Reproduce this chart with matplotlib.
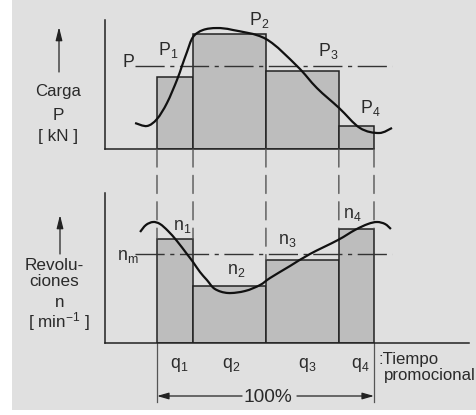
import matplotlib
matplotlib.use("Agg")
import matplotlib.pyplot as plt
import numpy as np
from matplotlib.path import Path
from matplotlib.patches import PathPatch, Rectangle, ConnectionPatch, FancyArrowPatch

plt.rcParams['font.family'] = ['Liberation Sans', 'DejaVu Sans']
plt.rcParams['mathtext.fontset'] = 'custom'
plt.rcParams['mathtext.rm'] = 'Liberation Sans'
plt.rcParams['mathtext.it'] = 'Liberation Sans'

# ---------------- data ----------------
q_share = [16.6, 33.6, 33.6, 16.2]          # time shares q1..q4 in %
load_P = [6.26, 10.0, 6.78, 2.0]             # load per period (arbitrary kN units)
load_mean = 7.22                             # equivalent load P
speed_n = [1040, 570, 830, 1140]             # speed per period (min^-1)
speed_mean = 890                             # mean speed n_m

load_curve_t = [-10.1, -4.6, 0.0, 4.6, 9.2, 11.5, 13.8, 16.6, 21.2, 27.6, 35.0,
                50.2, 64.5, 73.7, 83.9, 93.5, 102.3, 108.3]
load_curve_P = [2.26, 2.0, 2.61, 4.0, 6.0, 7.22, 8.43, 9.74, 10.35, 10.52, 10.35,
                9.57, 7.22, 5.30, 3.57, 1.83, 1.39, 1.83]

speed_curve_t = [-7.8, -5.1, -1.8, 1.4, 5.1, 9.2, 13.8, 16.6, 19.8, 23.0, 26.7,
                 32.7, 40.6, 47.5, 52.1, 61.3, 70.5, 83.4, 91.2, 97.2, 101.4, 105.1, 107.8]
speed_curve_n = [1110, 1180, 1210, 1190, 1120, 1020, 890, 810, 710, 630, 540,
                 500, 520, 580, 650, 770, 890, 1030, 1130, 1190, 1210, 1190, 1140]

load_labels = ['P_1', 'P_2', 'P_3', 'P_4']
speed_labels = ['n_1', 'n_2', 'n_3', 'n_4']
q_labels = ['q_1', 'q_2', 'q_3', 'q_4']

# ---------------- layout ----------------
W, H = 477, 415
fig = plt.figure(figsize=(W / 100, H / 100), dpi=100)
fig.patch.set_facecolor('white')
fig.patches.append(Rectangle((12 / W, 1 - 410 / H), (W - 12) / W, 410 / H,
                             transform=fig.transFigure, facecolor='#e0e0e0',
                             edgecolor='none', zorder=-10))

BAR = '#bdbdbd'
DARK = '#222222'
GREY = '#555555'
TXT = '#2a2a2a'

def px_axes(x0, y0, x1, y1):
    return fig.add_axes([x0 / W, 1 - y1 / H, (x1 - x0) / W, (y1 - y0) / H])

XL = (-23.96, 143.78)
ax1 = px_axes(105, 20, 469, 149)
ax2 = px_axes(105, 193, 469, 343)
for ax in (ax1, ax2):
    ax.set_facecolor('none')
    ax.set_xlim(*XL)
    ax.set_xticks([]); ax.set_yticks([])
    for s in ('top', 'right'):
        ax.spines[s].set_visible(False)
    for s in ('left', 'bottom'):
        ax.spines[s].set_linewidth(1.1)
        ax.spines[s].set_color(DARK)
ax1.set_ylim(0, 11.22)
ax2.set_ylim(0, 1500)
ax1.spines['bottom'].set_bounds(XL[0], sum(q_share))

edges = np.concatenate([[0], np.cumsum(q_share)])
lefts = edges[:-1]

ax1.bar(lefts, load_P, width=q_share, align='edge', color=BAR,
        edgecolor=DARK, linewidth=1.1, zorder=2)
ax2.bar(lefts, speed_n, width=q_share, align='edge', color=BAR,
        edgecolor=DARK, linewidth=1.1, zorder=2)

dashdot = (0, (21, 4, 3, 4))
ax1.plot([-10.1, 108.3], [load_mean, load_mean], color='#333333', lw=1.0,
         linestyle=dashdot, zorder=3)
ax2.plot([-10.1, 108.3], [speed_mean, speed_mean], color='#333333', lw=1.0,
         linestyle=dashdot, zorder=3)

def smooth(ax, xs, ys, **kw):
    pts = ax.transData.transform(np.column_stack([xs, ys]))
    verts = [pts[0]]
    codes = [Path.MOVETO]
    n = len(pts)
    for i in range(n - 1):
        p0 = pts[i - 1] if i > 0 else pts[i]
        p1 = pts[i]
        p2 = pts[i + 1]
        p3 = pts[i + 2] if i + 2 < n else pts[i + 1]
        c1 = p1 + (p2 - p0) / 6.0
        c2 = p2 - (p3 - p1) / 6.0
        verts += [c1, c2, p2]
        codes += [Path.CURVE4] * 3
    inv = ax.transData.inverted()
    verts = inv.transform(np.array(verts))
    patch = PathPatch(Path(verts, codes), facecolor='none', **kw)
    patch.set_clip_on(False)
    ax.add_patch(patch)

smooth(ax1, load_curve_t, load_curve_P, edgecolor='#111111', lw=1.6, zorder=4)
smooth(ax2, speed_curve_t, speed_curve_n, edgecolor='#111111', lw=1.6, zorder=4)

# dashed connectors between both diagrams
ends = [speed_n[0]] + [max(speed_n[i], speed_n[i + 1]) for i in range(3)] + [speed_n[-1]]
for x, yb in zip(edges, ends):
    cp = ConnectionPatch(xyA=(x, 0), coordsA=ax1.transData,
                         xyB=(x, yb), coordsB=ax2.transData,
                         color=GREY, lw=1.0, linestyle=(0, (13, 6)), zorder=1)
    fig.add_artist(cp)

# extension lines below the lower diagram + 100% arrow
for x in (edges[0], edges[-1]):
    ax2.plot([x, x], [0, -590], color=GREY, lw=0.9, clip_on=False)
arrow_kw = dict(arrowstyle='-|>,head_length=0.7,head_width=0.2', color=DARK, lw=0.9,
                shrinkA=0, shrinkB=0, mutation_scale=10)
ax2.annotate('', xy=(edges[0], -530), xytext=(39.2, -530), arrowprops=arrow_kw,
             annotation_clip=False)
ax2.annotate('', xy=(edges[-1], -530), xytext=(64.5, -530), arrowprops=arrow_kw,
             annotation_clip=False)

def ptext(x, y, s, ha='left', va='baseline', size=12.3, **kw):
    fig.text(x / W, 1 - y / H, s, ha=ha, va=va, fontsize=size, color=TXT, **kw)

def mreg(s):
    return '$\\mathregular{%s}$' % s

ptext(268, 402, '100%', ha='center', size=13.8)

# labels
LS = 12.8
ptext(123, 67, 'P', size=LS)
for s, (x, y) in zip(load_labels, [(158, 55), (249, 25), (318, 56), (360, 113)]):
    ptext(x, y, mreg(s), size=LS)
ptext(117, 260, mreg('n_m'), size=LS)
for s, (x, y) in zip(speed_labels, [(173, 230), (227, 274), (278, 244), (343, 218)]):
    ptext(x, y, mreg(s), size=LS)
for s, x in zip(q_labels, [170, 222, 298, 351]):
    ptext(x, 368, mreg(s), size=LS)
ptext(379, 364, ':Tiempo', size=12.1)
ptext(384, 380, 'promocional', size=12.1)

# axis titles with arrows
ptext(58, 96, 'Carga', ha='center', size=12.1)
ptext(58, 120, 'P', ha='center', size=12.3)
ptext(58, 141, '[ kN ]', ha='center', size=12.3)
ptext(54, 270, 'Revolu-', ha='center', size=12.3)
ptext(54, 286, 'ciones', ha='center', size=12.3)
ptext(60, 307, 'n', ha='center', size=12.3)
ptext(59, 327, '[ min$^{\\mathregular{-1}}$ ]', ha='center', size=12.3)

akw = dict(arrowstyle='-|>,head_length=0.8,head_width=0.2', color=DARK, lw=0.9,
           shrinkA=0, shrinkB=0, mutation_scale=10)
fig.add_artist(FancyArrowPatch((59 / W, 1 - 72 / H), (59 / W, 1 - 27 / H),
               transform=fig.transFigure, **akw))
fig.add_artist(FancyArrowPatch((60 / W, 1 - 254 / H), (60 / W, 1 - 215 / H),
               transform=fig.transFigure, **akw))

fig.savefig('out.png', dpi=100, facecolor=fig.get_facecolor())
